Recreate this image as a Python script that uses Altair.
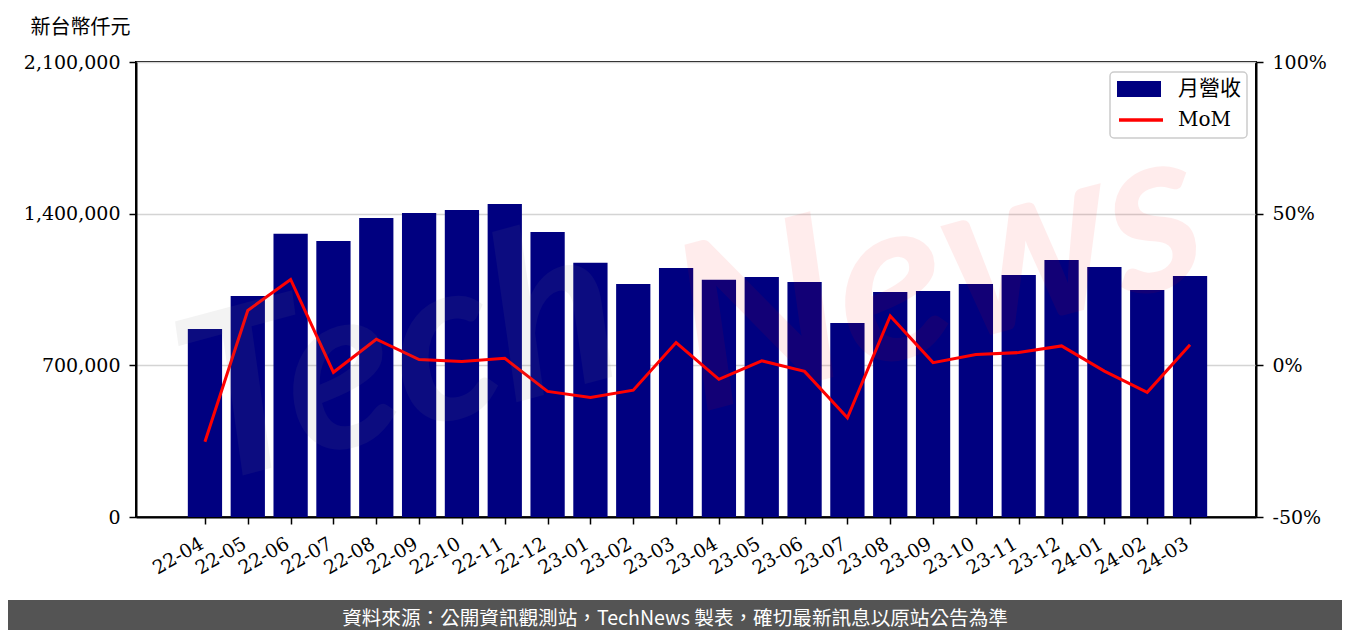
import json
import altair as alt
import pandas as pd

months = ["22-04", "22-05", "22-06", "22-07", "22-08", "22-09", "22-10", "22-11",
          "22-12", "23-01", "23-02", "23-03", "23-04", "23-05", "23-06", "23-07",
          "23-08", "23-09", "23-10", "23-11", "23-12", "24-01", "24-02", "24-03"]
revenue = [868000, 1020000, 1307500, 1273800, 1380000, 1403000, 1416900, 1444600,
           1315400, 1173800, 1075400, 1149200, 1095400, 1107700, 1084600, 895400,
           1038500, 1043100, 1075400, 1116900, 1186200, 1153800, 1047700, 1112300]
mom = [-25.2, 18.1, 28.3, -2.3, 8.6, 1.9, 1.3, 2.3,
       -8.6, -10.6, -8.2, 7.5, -4.6, 1.5, -2.0, -17.3,
       16.3, 0.9, 3.6, 4.2, 6.4, -1.9, -8.9, 6.8]
left_ticks = [0, 700000, 1400000, 2100000]
right_ticks = [-50, 0, 50, 100]
bar_name = "月營收"
line_name = "MoM"
unit_label = "新台幣仟元"
footer_text = "資料來源：公開資訊觀測站，TechNews 製表，確切最新訊息以原站公告為準"

idx = list(range(len(months)))
df = pd.DataFrame({"idx": idx, "month": months, "revenue": revenue, "mom": mom,
                   "s1": bar_name, "s2": line_name})

SERIF = "DejaVu Serif"
CJK = "Noto Sans CJK TC"
BAR_W = 0.8

month_expr = json.dumps(months, ensure_ascii=False) + "[datum.value]"

x_scale = alt.Scale(domain=[-1.61, 24.54], nice=False, zero=False)

x_axis = alt.Axis(title=None, values=idx, labelExpr=month_expr,
                  labelAngle=330, labelAlign="right",
                  labelBaseline="top", labelFont=SERIF, labelFontSize=19,
                  labelColor="black", tickColor="black", tickSize=7,
                  tickWidth=1.5, domainColor="black", domainWidth=2,
                  labelPadding=10, labelOffset=-8, grid=False,
                  labelFlush=False, labelOverlap=False)

bars = alt.Chart(df).transform_calculate(
    x0=f"datum.idx - {BAR_W / 2}", x1=f"datum.idx + {BAR_W / 2}", base="0"
).mark_bar(color="#000080").encode(
    x=alt.X("x0:Q", scale=x_scale, axis=x_axis),
    x2="x1:Q",
    y=alt.Y("revenue:Q", scale=alt.Scale(domain=[0, 2100000], nice=False),
            axis=alt.Axis(values=left_ticks,
                          labelExpr="format(datum.value, ',.0f')",
                          title=unit_label,
                          titleAngle=0, titleAlign="left", titleBaseline="middle",
                          titleX=-106, titleY=-35, titleFont=CJK, titleFontSize=20,
                          titleFontWeight="normal", titleColor="black",
                          labelFont=SERIF, labelFontSize=19, labelColor="black",
                          tickColor="black", tickSize=7, tickWidth=1.5,
                          domainColor="black", domainWidth=2, labelPadding=9,
                          grid=True, gridColor="#d4d4d4", gridWidth=1.5)),
    y2="base:Q",
    color=alt.Color("s1:N", scale=alt.Scale(domain=[bar_name], range=["#000080"]),
                    legend=alt.Legend(title=None, orient="none", legendX=981, legendY=5,
                                      symbolType="M-1,-0.36H1V0.36H-1Z", symbolSize=1936,
                                      symbolStrokeWidth=0, labelFont=SERIF + ", " + CJK,
                                      labelFontSize=21, labelColor="black",
                                      labelOffset=17, padding=0)),
)

line = alt.Chart(df).mark_line(color="#ff0000", strokeWidth=3).encode(
    x=alt.X("idx:Q", scale=x_scale),
    y=alt.Y("mom:Q", scale=alt.Scale(domain=[-50, 100], nice=False),
            axis=alt.Axis(orient="right", values=right_ticks,
                          labelExpr="datum.value + '%'", title=None,
                          labelFont=SERIF, labelFontSize=19, labelColor="black",
                          tickColor="black", tickSize=7, tickWidth=1.5,
                          domainColor="black", domainWidth=2, labelPadding=9,
                          grid=False)),
    color=alt.Color("s2:N", scale=alt.Scale(domain=[line_name], range=["#ff0000"]),
                    legend=alt.Legend(title=None, orient="none", legendX=981, legendY=34,
                                      symbolType="stroke", symbolSize=1936,
                                      symbolStrokeWidth=3.5, labelFont=SERIF,
                                      labelFontSize=20, labelColor="black",
                                      labelOffset=13, padding=0)),
)

one = alt.Data(values=[{"k": 1}])

wm_tech = alt.Chart(one).mark_text(
    text="Tech", font="Lato", fontSize=230, fontWeight="bold", fontStyle="italic",
    angle=345, color="#808080", opacity=0.09, align="center", baseline="middle"
).encode(x=alt.value(264), y=alt.value(300))

wm_news = alt.Chart(one).mark_text(
    text="News", font="Lato", fontSize=230, fontWeight="bold", fontStyle="italic",
    angle=345, color="#ff0000", opacity=0.07, align="center", baseline="middle"
).encode(x=alt.value(804), y=alt.value(215))

legend_box = alt.Chart(one).mark_rect(
    fill="white", fillOpacity=0.8, stroke="#cccccc", strokeWidth=1.5, cornerRadius=4
).encode(x=alt.value(974), x2=alt.value(1111), y=alt.value(10), y2=alt.value(76))

footer_bg = alt.Chart(one).mark_rect(color="#545454").encode(
    x=alt.value(-140), x2=alt.value(1220), y=alt.value(538), y2=alt.value(590))

footer = alt.Chart(one).mark_text(
    text=footer_text, font=CJK, fontSize=19.6, color="white",
    align="center", baseline="middle"
).encode(x=alt.value(539), y=alt.value(557))

chart = alt.layer(bars, line, wm_tech, wm_news, legend_box, footer_bg, footer).resolve_scale(
    y="independent", color="independent"
).properties(
    width=1120, height=455,
    autosize=alt.AutoSizeParams(type="none"),
    padding={"left": 128, "top": 54, "right": 86, "bottom": 113},
).configure_view(stroke="black", strokeWidth=2)

chart.save("out.html", embed_options={"renderer": "svg", "actions": False})
